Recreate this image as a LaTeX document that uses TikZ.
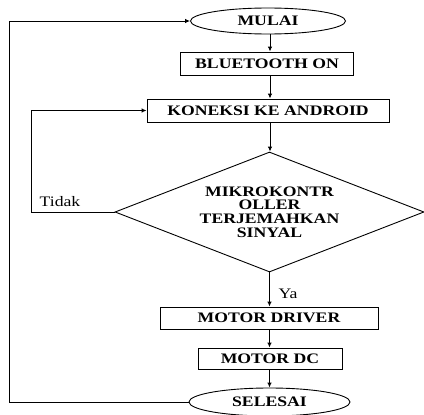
\documentclass[tikz,border=0pt]{standalone}
\usepackage{fontspec}
\setmainfont{Liberation Serif}[FakeStretch=1.22]
\usetikzlibrary{shapes.geometric,arrows.meta}
\tikzset{
  base/.style={draw=black, line width=0.9pt, inner sep=0pt, font=\fontsize{14.5}{13.7}\selectfont\bfseries, align=center},
  proc/.style={base, rectangle},
  term/.style={base, ellipse},
  dec/.style={base, diamond, aspect=2.575},
  arr/.style={draw=black, line width=0.9pt, -{Latex[length=5pt,width=4.5pt]}},
  lbl/.style={font=\fontsize{14.5}{16}\selectfont, inner sep=0pt}
}
\begin{document}
\begin{tikzpicture}[x=1pt,y=-1pt]
\useasboundingbox (0,0) rectangle (424,415);
\node[term, minimum width=155pt, minimum height=26pt] (mulai) at (268,21) {MULAI};
\node[proc, minimum width=173pt, minimum height=23pt] (bt) at (267,63.5) {BLUETOOTH ON};
\node[proc, minimum width=242pt, minimum height=23pt] (kon) at (268,110.5) {KONEKSI KE ANDROID};
\node[dec, minimum width=309pt, minimum height=120pt] (d) at (269.5,212) {MIKROKONTR\\OLLER\\TERJEMAHKAN\\SINYAL};
\node[proc, minimum width=218pt, minimum height=22pt] (md) at (269,318) {MOTOR DRIVER};
\node[proc, minimum width=144pt, minimum height=21pt] (dc) at (270,358.5) {MOTOR DC};
\node[term, minimum width=161pt, minimum height=28pt] (sel) at (269.5,402) {SELESAI};

\coordinate (a1) at (270,0);
\draw[arr] (mulai.south -| a1) -- (bt.north -| a1);
\draw[arr] (bt.south -| a1) -- (kon.north -| a1);
\draw[arr] (kon.south -| a1) -- (d.north -| a1);
\draw[arr] (d.south) -- (md.north -| d.south);
\draw[arr] (md.south -| d.south) -- (dc.north -| d.south);
\draw[arr] (dc.south -| d.south) -- (sel.north -| d.south);

\coordinate (lp) at (31,212);
\draw[arr] (d.west) -- (lp) |- (kon.west);
\coordinate (op) at (9,402);
\draw[arr] (sel.west) -- (op) |- (mulai.west);

\node[lbl] (tidak) at (60,202) {Tidak};
\node[lbl] (ya) at (288,294) {Ya};
\end{tikzpicture}
\end{document}
